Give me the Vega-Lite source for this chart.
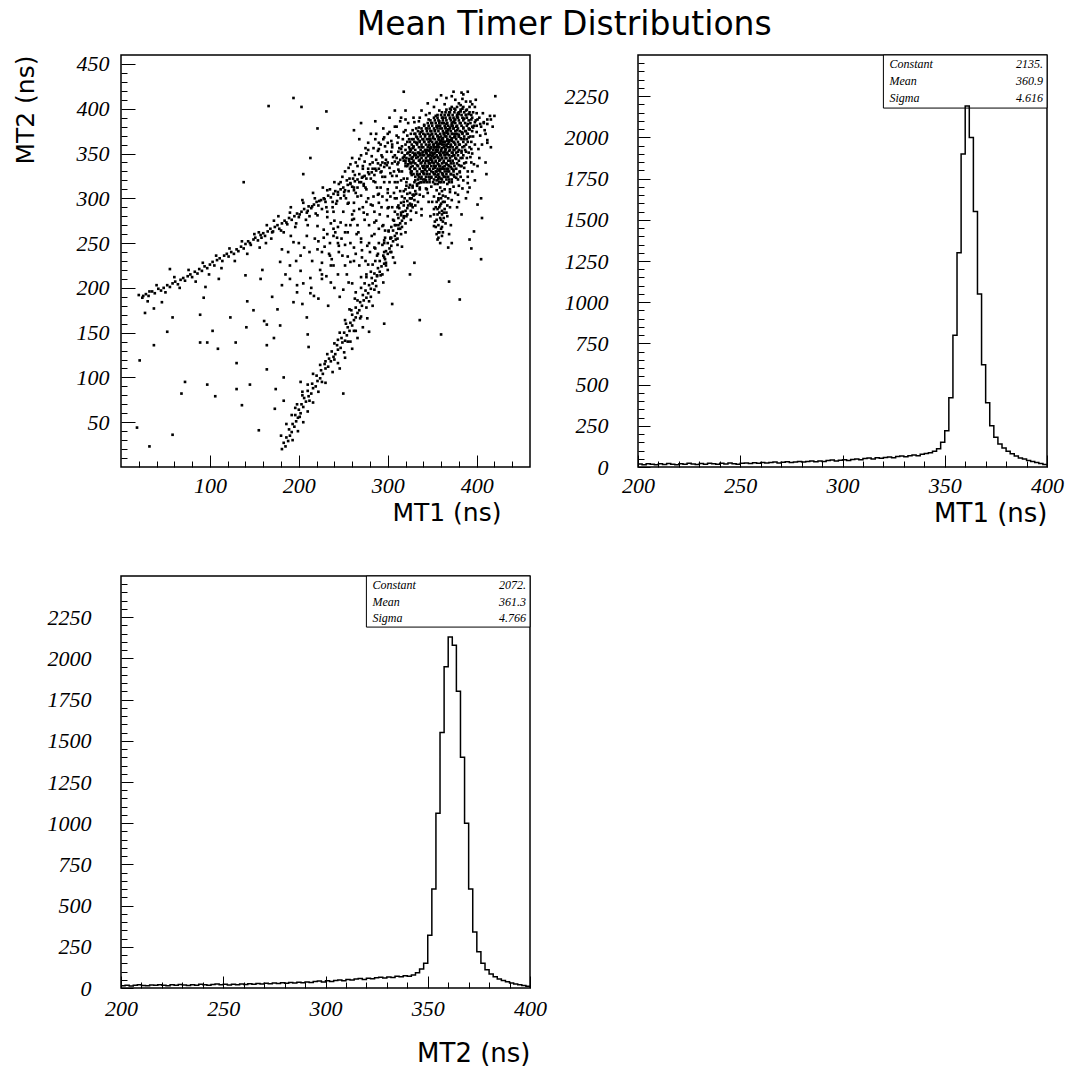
{
  "$schema": "https://vega.github.io/schema/vega-lite/v6.json",
  "background": "white",
  "padding": {"left": 12, "top": 9, "right": 10, "bottom": 8},
  "title": {"text": "Mean Timer Distributions", "font": "DejaVu Sans", "fontSize": 33, "fontWeight": "normal", "color": "black", "anchor": "middle", "dx": 26, "offset": 10},
  "columns": 2,
  "bounds": "flush",
  "spacing": {"row": 109, "column": 108},
  "datasets": {
    "scatter": [
      {"x":194,"y":412},{"x":166,"y":403},{"x":203,"y":402},{"x":231,"y":397},{"x":221,"y":378},{"x":318,"y":419},{"x":138,"y":318},{"x":213,"y":345},{"x":205,"y":327},{"x":25,"y":191},{"x":32,"y":196},{"x":55,"y":221},{"x":27,"y":172},{"x":37,"y":177},{"x":46,"y":184},{"x":52,"y":151},{"x":37,"y":136},{"x":58,"y":167},{"x":21,"y":119},{"x":72,"y":95},{"x":68,"y":82},{"x":58,"y":36},{"x":32,"y":23},{"x":18,"y":44},{"x":97,"y":92},{"x":106,"y":79},{"x":130,"y":87},{"x":145,"y":92},{"x":136,"y":69},{"x":155,"y":41},{"x":130,"y":116},{"x":89,"y":139},{"x":109,"y":132},{"x":129,"y":139},{"x":164,"y":136},{"x":174,"y":87},{"x":173,"y":65},{"x":183,"y":74},{"x":183,"y":100},{"x":164,"y":109},{"x":202,"y":95},{"x":211,"y":134},{"x":210,"y":148},{"x":209,"y":167},{"x":194,"y":184},{"x":204,"y":182},{"x":179,"y":158},{"x":172,"y":144},{"x":164,"y":159},{"x":176,"y":176},{"x":161,"y":163},{"x":141,"y":156},{"x":123,"y":167},{"x":103,"y":152},{"x":97,"y":139},{"x":89,"y":170},{"x":93,"y":189},{"x":95,"y":201},{"x":110,"y":210},{"x":142,"y":185},{"x":140,"y":214},{"x":157,"y":210},{"x":159,"y":220},{"x":185,"y":215},{"x":170,"y":190},{"x":149,"y":175},{"x":181,"y":203},{"x":198,"y":203},{"x":213,"y":194},{"x":217,"y":191},{"x":202,"y":219},{"x":213,"y":211},{"x":226,"y":210},{"x":231,"y":213},{"x":239,"y":225},{"x":235,"y":236},{"x":256,"y":206},{"x":258,"y":229},{"x":264,"y":238},{"x":245,"y":247},{"x":239,"y":258},{"x":194,"y":251},{"x":181,"y":243},{"x":179,"y":229},{"x":202,"y":236},{"x":221,"y":243},{"x":209,"y":258},{"x":191,"y":258},{"x":221,"y":269},{"x":239,"y":266},{"x":247,"y":273},{"x":255,"y":262},{"x":270,"y":251},{"x":277,"y":247},{"x":285,"y":245},{"x":296,"y":253},{"x":303,"y":256},{"x":294,"y":269},{"x":285,"y":273},{"x":273,"y":284},{"x":262,"y":277},{"x":270,"y":303},{"x":255,"y":294},{"x":239,"y":285},{"x":232,"y":279},{"x":221,"y":281},{"x":251,"y":307},{"x":262,"y":312},{"x":247,"y":318},{"x":273,"y":316},{"x":281,"y":293},{"x":289,"y":304},{"x":300,"y":289},{"x":308,"y":300},{"x":315,"y":281},{"x":327,"y":293},{"x":338,"y":281},{"x":352,"y":269},{"x":380,"y":296},{"x":390,"y":307},{"x":401,"y":293},{"x":406,"y":278},{"x":397,"y":263},{"x":394,"y":244},{"x":405,"y":232},{"x":392,"y":254},{"x":369,"y":207},{"x":381,"y":187},{"x":360,"y":148},{"x":336,"y":164},{"x":330,"y":228},{"x":325,"y":215},{"x":296,"y":160},{"x":279,"y":151},{"x":250,"y":82},{"x":305,"y":182},{"x":401,"y":336},{"x":411,"y":327},{"x":412,"y":362},{"x":416,"y":357},{"x":420,"y":392},{"x":421,"y":414},
      {"x":20,"y":192},{"x":24,"y":189},{"x":28,"y":193},{"x":31,"y":191},{"x":35,"y":196},{"x":38,"y":194},{"x":42,"y":199},{"x":45,"y":197},{"x":48,"y":200},{"x":52,"y":203},{"x":55,"y":201},{"x":58,"y":205},{"x":61,"y":207},{"x":64,"y":204},{"x":67,"y":209},{"x":70,"y":211},{"x":72,"y":208},{"x":75,"y":213},{"x":78,"y":215},{"x":80,"y":212},{"x":83,"y":218},{"x":86,"y":216},{"x":88,"y":221},{"x":91,"y":219},{"x":94,"y":224},{"x":97,"y":222},{"x":100,"y":226},{"x":103,"y":229},{"x":105,"y":225},{"x":108,"y":231},{"x":111,"y":233},{"x":114,"y":230},{"x":116,"y":236},{"x":119,"y":238},{"x":121,"y":235},{"x":124,"y":240},{"x":127,"y":238},{"x":130,"y":243},{"x":132,"y":241},{"x":135,"y":246},{"x":138,"y":244},{"x":140,"y":249},{"x":143,"y":252},{"x":146,"y":248},{"x":149,"y":254},{"x":151,"y":256},{"x":154,"y":253},{"x":157,"y":259},{"x":160,"y":261},{"x":162,"y":258},{"x":165,"y":263},{"x":168,"y":266},{"x":170,"y":262},{"x":173,"y":268},{"x":176,"y":270},{"x":178,"y":266},{"x":181,"y":272},{"x":184,"y":275},{"x":187,"y":271},{"x":189,"y":278},{"x":192,"y":276},{"x":195,"y":280},{"x":198,"y":283},{"x":200,"y":279},{"x":203,"y":285},{"x":206,"y":288},{"x":209,"y":284},{"x":211,"y":291},{"x":214,"y":289},{"x":217,"y":293},{"x":220,"y":296},{"x":222,"y":292},{"x":225,"y":298},{"x":228,"y":300},{"x":230,"y":296},{"x":233,"y":303},{"x":236,"y":301},{"x":239,"y":305},{"x":241,"y":308},{"x":244,"y":304},{"x":247,"y":310},{"x":250,"y":312},{"x":252,"y":309},{"x":255,"y":315},{"x":258,"y":317},{"x":260,"y":313},{"x":263,"y":319},{"x":266,"y":321},{"x":268,"y":318},{"x":271,"y":323},{"x":274,"y":325},{"x":276,"y":322},{"x":279,"y":327},{"x":282,"y":329},{"x":285,"y":326},{"x":287,"y":331},{"x":290,"y":333},{"x":293,"y":330},{"x":296,"y":335},{"x":299,"y":337},{"x":302,"y":334},{"x":305,"y":339},{"x":308,"y":341},{"x":311,"y":338},{"x":314,"y":343},{"x":317,"y":345},{"x":320,"y":342},
      {"x":155,"y":262},{"x":163,"y":250},{"x":172,"y":275},{"x":180,"y":264},{"x":190,"y":284},{"x":197,"y":272},{"x":205,"y":295},{"x":212,"y":280},{"x":218,"y":300},{"x":226,"y":288},{"x":232,"y":309},{"x":238,"y":296},{"x":245,"y":316},{"x":251,"y":303},{"x":257,"y":322},{"x":262,"y":309},{"x":268,"y":327},{"x":273,"y":314},{"x":278,"y":333},{"x":284,"y":319},{"x":289,"y":339},{"x":294,"y":324},{"x":298,"y":343},{"x":303,"y":328},{"x":308,"y":348},{"x":312,"y":332},{"x":316,"y":351},{"x":320,"y":336},{"x":325,"y":355},{"x":328,"y":340},{"x":243,"y":297},{"x":256,"y":308},{"x":270,"y":318},{"x":283,"y":333},{"x":297,"y":339},{"x":310,"y":345},{"x":254,"y":320},{"x":266,"y":312},{"x":281,"y":322},{"x":292,"y":337},
      {"x":30,"y":185},{"x":40,"y":203},{"x":50,"y":195},{"x":60,"y":212},{"x":66,"y":200},{"x":76,"y":220},{"x":84,"y":207},{"x":92,"y":228},{"x":99,"y":215},{"x":107,"y":236},{"x":113,"y":222},{"x":122,"y":244},{"x":128,"y":230},{"x":136,"y":252},{"x":142,"y":238},{"x":150,"y":260},{"x":156,"y":245},{"x":164,"y":270},{"x":169,"y":255},{"x":177,"y":280},{"x":183,"y":262},{"x":191,"y":290},{"x":196,"y":268},{"x":204,"y":298},{"x":208,"y":276},{"x":216,"y":306},{"x":219,"y":283},{"x":227,"y":312},{"x":231,"y":290},{"x":240,"y":318},{"x":242,"y":294},{"x":249,"y":324},{"x":253,"y":300},{"x":261,"y":330},{"x":264,"y":306},{"x":272,"y":336},{"x":275,"y":312},{"x":283,"y":340},{"x":286,"y":318},{"x":294,"y":346},{"x":297,"y":324},{"x":304,"y":352},{"x":307,"y":330},{"x":313,"y":356},{"x":145,"y":250},{"x":158,"y":256},{"x":171,"y":263},{"x":186,"y":273},{"x":201,"y":282},{"x":215,"y":291},{"x":229,"y":299},{"x":244,"y":307},{"x":258,"y":316},{"x":272,"y":324},{"x":286,"y":333},{"x":300,"y":340},{"x":235,"y":310},{"x":223,"y":297},{"x":210,"y":286},{"x":261,"y":322},{"x":278,"y":329},{"x":292,"y":329},
      {"x":181,"y":20},{"x":185,"y":23},{"x":183,"y":27},{"x":188,"y":29},{"x":186,"y":33},{"x":190,"y":35},{"x":192,"y":39},{"x":189,"y":42},{"x":195,"y":45},{"x":193,"y":48},{"x":197,"y":51},{"x":199,"y":55},{"x":196,"y":58},{"x":202,"y":60},{"x":200,"y":64},{"x":205,"y":67},{"x":203,"y":70},{"x":208,"y":73},{"x":206,"y":77},{"x":211,"y":79},{"x":214,"y":82},{"x":210,"y":85},{"x":216,"y":88},{"x":219,"y":90},{"x":215,"y":93},{"x":221,"y":96},{"x":224,"y":99},{"x":220,"y":102},{"x":227,"y":104},{"x":225,"y":108},{"x":230,"y":110},{"x":233,"y":112},{"x":229,"y":115},{"x":236,"y":118},{"x":234,"y":121},{"x":239,"y":123},{"x":241,"y":126},{"x":237,"y":129},{"x":244,"y":131},{"x":247,"y":133},{"x":243,"y":136},{"x":249,"y":139},{"x":252,"y":141},{"x":248,"y":144},{"x":254,"y":147},{"x":251,"y":150},{"x":257,"y":152},{"x":255,"y":156},{"x":260,"y":158},{"x":258,"y":161},{"x":262,"y":164},{"x":264,"y":167},{"x":260,"y":170},{"x":266,"y":172},{"x":268,"y":175},{"x":264,"y":178},{"x":271,"y":180},{"x":269,"y":184},{"x":273,"y":186},{"x":276,"y":189},{"x":272,"y":192},{"x":278,"y":194},{"x":275,"y":197},{"x":281,"y":199},{"x":279,"y":203},{"x":283,"y":205},{"x":286,"y":208},{"x":282,"y":211},{"x":288,"y":213},{"x":285,"y":216},{"x":291,"y":218},{"x":289,"y":222},{"x":293,"y":224},{"x":296,"y":227},{"x":291,"y":230},{"x":297,"y":232},{"x":295,"y":236},{"x":300,"y":238},{"x":298,"y":241},{"x":302,"y":244},{"x":304,"y":247},{"x":300,"y":250},{"x":306,"y":252},{"x":303,"y":255},{"x":308,"y":258},{"x":310,"y":261},{"x":306,"y":264},{"x":312,"y":266},{"x":309,"y":270},{"x":314,"y":272},{"x":316,"y":275},{"x":312,"y":278},{"x":318,"y":280},{"x":315,"y":284},{"x":320,"y":286},{"x":322,"y":289},{"x":318,"y":292},{"x":325,"y":294},{"x":322,"y":297},{"x":327,"y":300},{"x":329,"y":303},{"x":325,"y":306},{"x":331,"y":308},{"x":328,"y":312},{"x":333,"y":314},{"x":335,"y":317},{"x":331,"y":320},{"x":337,"y":322},{"x":334,"y":326},
      {"x":255,"y":140},{"x":240,"y":120},{"x":262,"y":152},{"x":270,"y":168},{"x":279,"y":185},{"x":285,"y":198},{"x":294,"y":215},{"x":298,"y":225},{"x":304,"y":240},{"x":311,"y":255},{"x":316,"y":268},{"x":321,"y":280},{"x":326,"y":292},{"x":332,"y":305},{"x":338,"y":318},{"x":244,"y":142},{"x":253,"y":160},{"x":259,"y":175},{"x":266,"y":186},{"x":274,"y":205},{"x":281,"y":218},{"x":288,"y":236},{"x":294,"y":248},{"x":301,"y":263},{"x":307,"y":275},{"x":313,"y":289},{"x":319,"y":300},{"x":324,"y":312},{"x":230,"y":118},{"x":226,"y":95},{"x":212,"y":74},{"x":201,"y":56},{"x":204,"y":84},{"x":196,"y":66},
      {"x":193,"y":30},{"x":180,"y":35},{"x":199,"y":40},{"x":186,"y":48},{"x":205,"y":50},{"x":192,"y":58},{"x":210,"y":62},{"x":198,"y":70},{"x":216,"y":72},{"x":204,"y":80},{"x":222,"y":84},{"x":210,"y":92},{"x":230,"y":94},{"x":216,"y":104},{"x":238,"y":106},{"x":224,"y":114},{"x":244,"y":116},{"x":232,"y":126},{"x":251,"y":128},{"x":240,"y":138},{"x":258,"y":140},{"x":246,"y":150},{"x":264,"y":152},{"x":252,"y":164},{"x":269,"y":166},{"x":257,"y":176},{"x":276,"y":178},{"x":263,"y":188},{"x":281,"y":190},{"x":270,"y":200},{"x":287,"y":202},{"x":276,"y":212},{"x":292,"y":214},{"x":283,"y":226},{"x":298,"y":228},{"x":289,"y":238},{"x":303,"y":240},{"x":296,"y":250},{"x":309,"y":254},{"x":301,"y":264},{"x":314,"y":266},{"x":306,"y":276},{"x":318,"y":278},{"x":311,"y":290},{"x":323,"y":292},{"x":316,"y":302},{"x":328,"y":304},{"x":321,"y":314},{"x":333,"y":316},{"x":327,"y":326},{"x":340,"y":330},{"x":343,"y":320},{"x":336,"y":310},{"x":330,"y":298},{"x":326,"y":286},{"x":320,"y":272},{"x":315,"y":260},{"x":311,"y":248},{"x":306,"y":234},{"x":300,"y":220},{"x":295,"y":206},{"x":290,"y":195},{"x":283,"y":180},{"x":277,"y":166},{"x":272,"y":156},{"x":266,"y":144},{"x":260,"y":132},{"x":252,"y":122},{"x":246,"y":110},
      {"x":265,"y":260},{"x":272,"y":290},{"x":258,"y":270},{"x":248,"y":255},{"x":262,"y":295},{"x":278,"y":300},{"x":285,"y":285},{"x":290,"y":305},{"x":300,"y":310},{"x":295,"y":270},{"x":305,"y":290},{"x":310,"y":300},{"x":315,"y":320},{"x":280,"y":240},{"x":268,"y":225},{"x":255,"y":235},{"x":245,"y":240},{"x":235,"y":250},{"x":228,"y":265},{"x":240,"y":275},{"x":250,"y":285},{"x":232,"y":285},{"x":226,"y":240},{"x":218,"y":255},{"x":210,"y":270},{"x":206,"y":245},{"x":197,"y":230},{"x":188,"y":240},{"x":215,"y":230},{"x":252,"y":225},{"x":244,"y":215},{"x":236,"y":225},{"x":226,"y":215},{"x":260,"y":205},{"x":250,"y":198},{"x":240,"y":200},{"x":233,"y":180},{"x":222,"y":188},{"x":214,"y":200},{"x":205,"y":205},{"x":198,"y":195},{"x":190,"y":210},{"x":275,"y":230},{"x":285,"y":260},{"x":290,"y":250},{"x":300,"y":280},{"x":308,"y":270},{"x":317,"y":285},{"x":322,"y":305},{"x":311,"y":318},{"x":305,"y":325},{"x":296,"y":318},{"x":288,"y":312},{"x":276,"y":310},{"x":266,"y":302},{"x":256,"y":295},{"x":247,"y":300},{"x":238,"y":290},{"x":262,"y":245},{"x":270,"y":255},{"x":279,"y":270},{"x":287,"y":275},{"x":293,"y":290},{"x":299,"y":298},{"x":310,"y":312},{"x":318,"y":322},{"x":326,"y":330},
      {"x":232,"y":260},{"x":244,"y":268},{"x":252,"y":248},{"x":260,"y":282},{"x":271,"y":242},{"x":282,"y":258},{"x":291,"y":282},{"x":297,"y":264},{"x":303,"y":302},{"x":312,"y":292},{"x":320,"y":310},{"x":226,"y":228},{"x":236,"y":206},{"x":246,"y":190},{"x":254,"y":215},{"x":264,"y":195},{"x":276,"y":215},{"x":286,"y":230},{"x":296,"y":240},{"x":308,"y":285},{"x":315,"y":295},{"x":190,"y":225},{"x":200,"y":250},{"x":212,"y":240},{"x":222,"y":252},{"x":234,"y":238},{"x":243,"y":256},{"x":266,"y":270},{"x":277,"y":282},{"x":290,"y":295},{"x":302,"y":318},{"x":313,"y":330},{"x":325,"y":340},
      {"x":252,"y":330},{"x":258,"y":338},{"x":263,"y":326},{"x":268,"y":344},{"x":272,"y":333},{"x":276,"y":350},{"x":280,"y":338},{"x":284,"y":356},{"x":287,"y":343},{"x":290,"y":362},{"x":293,"y":348},{"x":296,"y":368},{"x":299,"y":352},{"x":302,"y":374},{"x":305,"y":357},{"x":308,"y":380},{"x":311,"y":362},{"x":314,"y":386},{"x":317,"y":366},{"x":320,"y":376},{"x":323,"y":384},{"x":326,"y":372},{"x":329,"y":390},{"x":332,"y":378},{"x":335,"y":386},{"x":260,"y":345},{"x":266,"y":336},{"x":274,"y":341},{"x":282,"y":347},{"x":289,"y":353},{"x":297,"y":358},{"x":304,"y":364},{"x":310,"y":370},{"x":316,"y":358},{"x":322,"y":350},{"x":328,"y":356},{"x":333,"y":362},{"x":318,"y":374},{"x":306,"y":346},{"x":300,"y":362},{"x":294,"y":340},{"x":286,"y":366},{"x":278,"y":354},{"x":270,"y":348},{"x":264,"y":340},{"x":256,"y":334},{"x":312,"y":352},{"x":324,"y":366},{"x":330,"y":372},{"x":320,"y":388},
      {"x":224,"y":220},{"x":229,"y":246},{"x":237,"y":232},{"x":241,"y":262},{"x":249,"y":236},{"x":253,"y":270},{"x":258,"y":250},{"x":262,"y":286},{"x":267,"y":262},{"x":271,"y":234},{"x":274,"y":276},{"x":279,"y":250},{"x":283,"y":292},{"x":286,"y":244},{"x":290,"y":266},{"x":294,"y":302},{"x":297,"y":256},{"x":301,"y":290},{"x":304,"y":268},{"x":307,"y":306},{"x":311,"y":282},{"x":314,"y":308},{"x":318,"y":296},{"x":321,"y":318},{"x":325,"y":300},{"x":328,"y":314},{"x":331,"y":292},{"x":308,"y":318},{"x":300,"y":306},{"x":292,"y":312},{"x":284,"y":302},{"x":276,"y":296},{"x":268,"y":288},{"x":260,"y":276},{"x":252,"y":262},{"x":244,"y":250},{"x":236,"y":272},{"x":228,"y":256},{"x":262,"y":230},{"x":270,"y":212},{"x":278,"y":226},{"x":288,"y":214},{"x":296,"y":234},{"x":304,"y":256},{"x":312,"y":270},{"x":320,"y":262},{"x":326,"y":276},{"x":332,"y":284},{"x":316,"y":246},{"x":308,"y":228},
      {"x":322,"y":282},{"x":328,"y":290},{"x":334,"y":296},{"x":340,"y":302},{"x":346,"y":296},{"x":338,"y":288},{"x":344,"y":310},{"x":350,"y":296},{"x":352,"y":288},{"x":348,"y":280},{"x":330,"y":318},{"x":336,"y":304},{"x":326,"y":300},{"x":372,"y":298},{"x":376,"y":306},{"x":380,"y":314},{"x":385,"y":320},{"x":388,"y":300},{"x":392,"y":312},{"x":378,"y":290},{"x":383,"y":282},{"x":374,"y":326},{"x":382,"y":336},{"x":390,"y":330},{"x":394,"y":340},
      {"x":262,"y":376},{"x":270,"y":384},{"x":278,"y":362},{"x":286,"y":386},{"x":295,"y":378},{"x":302,"y":390},{"x":268,"y":366},{"x":281,"y":372},{"x":292,"y":360},{"x":275,"y":356},{"x":300,"y":372},{"x":305,"y":360},{"x":310,"y":380},{"x":295,"y":366},{"x":290,"y":355},{"x":315,"y":390},{"x":320,"y":398},{"x":308,"y":398},{"x":312,"y":368},{"x":287,"y":372},
      {"x":352,"y":402},{"x":358,"y":398},{"x":364,"y":405},{"x":370,"y":400},{"x":376,"y":410},{"x":382,"y":404},{"x":388,"y":398},{"x":372,"y":414},{"x":385,"y":416},{"x":393,"y":408},{"x":366,"y":412},{"x":345,"y":406},{"x":338,"y":398},{"x":379,"y":395},{"x":391,"y":394},{"x":398,"y":402},{"x":360,"y":415},{"x":355,"y":410},{"x":384,"y":411},{"x":396,"y":396},{"x":401,"y":388},{"x":369,"y":396},{"x":347,"y":395},
      {"x":330,"y":385},{"x":336,"y":390},{"x":341,"y":382},{"x":346,"y":388},{"x":350,"y":384},{"x":354,"y":392},{"x":358,"y":386},{"x":362,"y":390},{"x":366,"y":383},{"x":370,"y":389},{"x":374,"y":385},{"x":378,"y":391},{"x":382,"y":384},{"x":386,"y":389},{"x":390,"y":383},{"x":394,"y":388},{"x":398,"y":385},{"x":403,"y":390},{"x":408,"y":384},{"x":412,"y":388},{"x":343,"y":393},{"x":357,"y":381},{"x":368,"y":393},{"x":377,"y":380},{"x":388,"y":393},{"x":395,"y":380},{"x":405,"y":380},{"x":415,"y":392},{"x":361,"y":384},{"x":372,"y":381},
      {"x":322,"y":370},{"x":328,"y":376},{"x":333,"y":368},{"x":337,"y":374},{"x":340,"y":366},{"x":344,"y":378},{"x":348,"y":371},{"x":351,"y":367},{"x":353,"y":376},{"x":356,"y":370},{"x":359,"y":378},{"x":361,"y":366},{"x":363,"y":373},{"x":366,"y":369},{"x":368,"y":377},{"x":370,"y":365},{"x":372,"y":372},{"x":375,"y":368},{"x":378,"y":376},{"x":380,"y":369},{"x":383,"y":374},{"x":386,"y":366},{"x":389,"y":372},{"x":392,"y":377},{"x":396,"y":369},{"x":400,"y":374},{"x":404,"y":370},{"x":409,"y":376},{"x":346,"y":366},{"x":355,"y":380},{"x":365,"y":379},{"x":374,"y":378},{"x":385,"y":379},{"x":349,"y":375},{"x":358,"y":368},{"x":367,"y":374},{"x":376,"y":372},{"x":382,"y":367},{"x":391,"y":368},{"x":342,"y":371},{"x":335,"y":379},{"x":327,"y":366},
      {"x":315,"y":355},{"x":320,"y":360},{"x":325,"y":352},{"x":329,"y":358},{"x":332,"y":362},{"x":335,"y":351},{"x":338,"y":357},{"x":341,"y":363},{"x":343,"y":353},{"x":346,"y":359},{"x":348,"y":364},{"x":350,"y":351},{"x":352,"y":357},{"x":354,"y":362},{"x":356,"y":354},{"x":357,"y":360},{"x":359,"y":350},{"x":361,"y":356},{"x":362,"y":363},{"x":364,"y":352},{"x":366,"y":358},{"x":367,"y":364},{"x":369,"y":353},{"x":371,"y":359},{"x":373,"y":351},{"x":375,"y":362},{"x":377,"y":356},{"x":380,"y":360},{"x":383,"y":353},{"x":386,"y":358},{"x":390,"y":363},{"x":394,"y":355},{"x":398,"y":360},{"x":344,"y":350},{"x":351,"y":360},{"x":358,"y":365},{"x":365,"y":355},{"x":372,"y":364},{"x":379,"y":352},{"x":336,"y":364},{"x":331,"y":350},{"x":348,"y":356},{"x":355,"y":352},{"x":363,"y":360},{"x":370,"y":357},{"x":388,"y":352},{"x":322,"y":363},{"x":346,"y":353},{"x":360,"y":353},{"x":368,"y":361},{"x":375,"y":354},
      {"x":312,"y":340},{"x":318,"y":346},{"x":323,"y":338},{"x":327,"y":344},{"x":330,"y":349},{"x":333,"y":337},{"x":336,"y":343},{"x":339,"y":348},{"x":341,"y":336},{"x":343,"y":342},{"x":345,"y":347},{"x":347,"y":339},{"x":349,"y":344},{"x":351,"y":349},{"x":352,"y":336},{"x":354,"y":341},{"x":356,"y":346},{"x":357,"y":338},{"x":359,"y":343},{"x":360,"y":348},{"x":362,"y":335},{"x":363,"y":340},{"x":365,"y":345},{"x":367,"y":349},{"x":368,"y":337},{"x":370,"y":342},{"x":372,"y":347},{"x":374,"y":339},{"x":377,"y":344},{"x":380,"y":337},{"x":384,"y":345},{"x":388,"y":340},{"x":393,"y":346},{"x":397,"y":338},{"x":338,"y":340},{"x":350,"y":340},{"x":361,"y":345},{"x":366,"y":338},{"x":353,"y":346},{"x":344,"y":335},{"x":358,"y":336},{"x":371,"y":335},{"x":326,"y":335},{"x":334,"y":346},{"x":348,"y":348},{"x":364,"y":349},{"x":375,"y":348},
      {"x":310,"y":325},{"x":316,"y":330},{"x":322,"y":322},{"x":326,"y":328},{"x":331,"y":333},{"x":335,"y":324},{"x":339,"y":330},{"x":342,"y":321},{"x":344,"y":327},{"x":347,"y":332},{"x":349,"y":323},{"x":351,"y":329},{"x":353,"y":334},{"x":355,"y":320},{"x":356,"y":326},{"x":358,"y":331},{"x":360,"y":322},{"x":361,"y":328},{"x":363,"y":333},{"x":365,"y":324},{"x":367,"y":330},{"x":369,"y":321},{"x":371,"y":327},{"x":374,"y":332},{"x":377,"y":323},{"x":381,"y":329},{"x":386,"y":334},{"x":390,"y":324},{"x":395,"y":330},{"x":352,"y":327},{"x":357,"y":323},{"x":359,"y":333},{"x":346,"y":324},{"x":362,"y":326},{"x":354,"y":330},{"x":340,"y":334},{"x":333,"y":327},{"x":368,"y":333},
      {"x":318,"y":308},{"x":325,"y":315},{"x":330,"y":304},{"x":336,"y":312},{"x":341,"y":318},{"x":345,"y":306},{"x":349,"y":313},{"x":352,"y":302},{"x":355,"y":309},{"x":356,"y":316},{"x":358,"y":305},{"x":359,"y":312},{"x":360,"y":318},{"x":362,"y":303},{"x":364,"y":310},{"x":367,"y":316},{"x":370,"y":307},{"x":374,"y":313},{"x":379,"y":304},{"x":384,"y":311},{"x":390,"y":317},{"x":347,"y":318},{"x":353,"y":316},{"x":357,"y":300},{"x":361,"y":308},{"x":365,"y":302},{"x":372,"y":318},{"x":343,"y":311},
      {"x":357,"y":298},{"x":360,"y":294},{"x":358,"y":290},{"x":361,"y":286},{"x":356,"y":282},{"x":359,"y":278},{"x":362,"y":274},{"x":357,"y":270},{"x":360,"y":266},{"x":358,"y":262},{"x":361,"y":258},{"x":356,"y":254},{"x":359,"y":292},{"x":363,"y":284},{"x":355,"y":276},{"x":361,"y":268},{"x":358,"y":284},{"x":360,"y":276},{"x":357,"y":262},{"x":362,"y":296},{"x":359,"y":250},{"x":364,"y":288},{"x":354,"y":290},{"x":365,"y":272},
      {"x":355,"y":260},{"x":362,"y":262},{"x":354,"y":268},{"x":363,"y":278},{"x":356,"y":288},{"x":364,"y":296},{"x":357,"y":256},{"x":361,"y":282},{"x":355,"y":296},{"x":360,"y":300},{"x":366,"y":284},{"x":353,"y":274},{"x":367,"y":292},{"x":352,"y":282},{"x":368,"y":300},{"x":370,"y":290},{"x":367,"y":280},{"x":371,"y":270},{"x":369,"y":260},{"x":372,"y":250},{"x":368,"y":245},{"x":370,"y":310},
      {"x":340,"y":328},{"x":342,"y":332},{"x":344,"y":336},{"x":346,"y":340},{"x":348,"y":343},{"x":350,"y":347},{"x":352,"y":350},{"x":354,"y":354},{"x":356,"y":357},{"x":358,"y":361},{"x":360,"y":364},{"x":362,"y":367},{"x":364,"y":370},{"x":366,"y":373},{"x":368,"y":376},{"x":370,"y":379},{"x":372,"y":382},{"x":374,"y":385},{"x":376,"y":388},{"x":378,"y":391},{"x":380,"y":394},{"x":382,"y":397},{"x":384,"y":400},
      {"x":324,"y":344},{"x":328,"y":346},{"x":332,"y":348},{"x":336,"y":350},{"x":340,"y":352},{"x":344,"y":354},{"x":348,"y":356},{"x":352,"y":357},{"x":356,"y":359},{"x":360,"y":361},{"x":364,"y":363},{"x":368,"y":365},{"x":372,"y":367},{"x":376,"y":369},{"x":380,"y":371},{"x":384,"y":373},{"x":388,"y":375},{"x":392,"y":377},{"x":396,"y":379},{"x":400,"y":381},{"x":404,"y":383},{"x":408,"y":385},{"x":412,"y":383},{"x":416,"y":388},
      {"x":405,"y":300},{"x":398,"y":320},{"x":410,"y":340},{"x":402,"y":355},{"x":412,"y":365},{"x":407,"y":395},{"x":399,"y":410},{"x":390,"y":419},{"x":383,"y":418},{"x":374,"y":419},{"x":395,"y":350},{"x":403,"y":345},{"x":410,"y":372},{"x":418,"y":380},{"x":406,"y":360},{"x":400,"y":395},{"x":395,"y":405},{"x":388,"y":408},{"x":380,"y":406},{"x":375,"y":400},
      {"x":337,"y":318},{"x":344,"y":318},{"x":351,"y":318},{"x":358,"y":318},{"x":363,"y":318},{"x":369,"y":318},
      {"x":334,"y":321},{"x":340,"y":321},{"x":347,"y":321},{"x":352,"y":321},{"x":357,"y":321},{"x":361,"y":321},{"x":366,"y":321},{"x":372,"y":321},{"x":379,"y":321},
      {"x":331,"y":324},{"x":338,"y":324},{"x":343,"y":324},{"x":349,"y":324},{"x":354,"y":324},{"x":358,"y":324},{"x":363,"y":324},{"x":368,"y":324},{"x":375,"y":324},{"x":382,"y":324},
      {"x":329,"y":327},{"x":336,"y":327},{"x":341,"y":327},{"x":347,"y":327},{"x":353,"y":327},{"x":357,"y":327},{"x":362,"y":327},{"x":366,"y":327},{"x":371,"y":327},{"x":378,"y":327},
      {"x":327,"y":330},{"x":333,"y":330},{"x":338,"y":330},{"x":344,"y":330},{"x":349,"y":330},{"x":355,"y":330},{"x":359,"y":330},{"x":364,"y":330},{"x":369,"y":330},{"x":374,"y":330},{"x":381,"y":330},
      {"x":325,"y":333},{"x":330,"y":333},{"x":336,"y":333},{"x":342,"y":333},{"x":347,"y":333},{"x":351,"y":333},{"x":356,"y":333},{"x":361,"y":333},{"x":366,"y":333},{"x":372,"y":333},{"x":377,"y":333},
      {"x":322,"y":336},{"x":328,"y":336},{"x":334,"y":336},{"x":339,"y":336},{"x":345,"y":336},{"x":349,"y":336},{"x":354,"y":336},{"x":359,"y":336},{"x":364,"y":336},{"x":369,"y":336},{"x":375,"y":336},{"x":383,"y":336},
      {"x":320,"y":339},{"x":326,"y":339},{"x":331,"y":339},{"x":337,"y":339},{"x":342,"y":339},{"x":347,"y":339},{"x":352,"y":339},{"x":356,"y":339},{"x":361,"y":339},{"x":366,"y":339},{"x":371,"y":339},{"x":378,"y":339},{"x":386,"y":339},
      {"x":318,"y":342},{"x":324,"y":342},{"x":329,"y":342},{"x":335,"y":342},{"x":340,"y":342},{"x":345,"y":342},{"x":350,"y":342},{"x":354,"y":342},{"x":358,"y":342},{"x":363,"y":342},{"x":368,"y":342},{"x":373,"y":342},{"x":380,"y":342},
      {"x":321,"y":345},{"x":327,"y":345},{"x":332,"y":345},{"x":338,"y":345},{"x":343,"y":345},{"x":348,"y":345},{"x":352,"y":345},{"x":357,"y":345},{"x":361,"y":345},{"x":366,"y":345},{"x":370,"y":345},{"x":376,"y":345},{"x":382,"y":345},{"x":389,"y":345},
      {"x":319,"y":348},{"x":325,"y":348},{"x":330,"y":348},{"x":336,"y":348},{"x":341,"y":348},{"x":346,"y":348},{"x":351,"y":348},{"x":355,"y":348},{"x":359,"y":348},{"x":364,"y":348},{"x":369,"y":348},{"x":374,"y":348},{"x":379,"y":348},{"x":385,"y":348},
      {"x":323,"y":351},{"x":328,"y":351},{"x":334,"y":351},{"x":339,"y":351},{"x":343,"y":351},{"x":348,"y":351},{"x":353,"y":351},{"x":358,"y":351},{"x":362,"y":351},{"x":367,"y":351},{"x":372,"y":351},{"x":377,"y":351},{"x":383,"y":351},{"x":391,"y":351},
      {"x":320,"y":354},{"x":326,"y":354},{"x":331,"y":354},{"x":337,"y":354},{"x":342,"y":354},{"x":347,"y":354},{"x":351,"y":354},{"x":356,"y":354},{"x":360,"y":354},{"x":365,"y":354},{"x":370,"y":354},{"x":374,"y":354},{"x":380,"y":354},{"x":387,"y":354},
      {"x":324,"y":357},{"x":329,"y":357},{"x":335,"y":357},{"x":340,"y":357},{"x":345,"y":357},{"x":349,"y":357},{"x":354,"y":357},{"x":358,"y":357},{"x":363,"y":357},{"x":368,"y":357},{"x":373,"y":357},{"x":378,"y":357},{"x":384,"y":357},{"x":392,"y":357},
      {"x":327,"y":360},{"x":333,"y":360},{"x":338,"y":360},{"x":343,"y":360},{"x":347,"y":360},{"x":352,"y":360},{"x":356,"y":360},{"x":361,"y":360},{"x":366,"y":360},{"x":371,"y":360},{"x":376,"y":360},{"x":381,"y":360},{"x":388,"y":360},
      {"x":325,"y":363},{"x":330,"y":363},{"x":336,"y":363},{"x":341,"y":363},{"x":346,"y":363},{"x":350,"y":363},{"x":355,"y":363},{"x":359,"y":363},{"x":364,"y":363},{"x":369,"y":363},{"x":374,"y":363},{"x":379,"y":363},{"x":385,"y":363},{"x":394,"y":363},
      {"x":329,"y":366},{"x":334,"y":366},{"x":339,"y":366},{"x":344,"y":366},{"x":348,"y":366},{"x":353,"y":366},{"x":357,"y":366},{"x":362,"y":366},{"x":367,"y":366},{"x":372,"y":366},{"x":377,"y":366},{"x":383,"y":366},{"x":389,"y":366},
      {"x":332,"y":369},{"x":337,"y":369},{"x":342,"y":369},{"x":347,"y":369},{"x":351,"y":369},{"x":356,"y":369},{"x":360,"y":369},{"x":365,"y":369},{"x":370,"y":369},{"x":375,"y":369},{"x":380,"y":369},{"x":386,"y":369},{"x":393,"y":369},
      {"x":331,"y":372},{"x":336,"y":372},{"x":340,"y":372},{"x":345,"y":372},{"x":350,"y":372},{"x":354,"y":372},{"x":359,"y":372},{"x":363,"y":372},{"x":368,"y":372},{"x":373,"y":372},{"x":378,"y":372},{"x":384,"y":372},{"x":390,"y":372},
      {"x":334,"y":375},{"x":339,"y":375},{"x":344,"y":375},{"x":348,"y":375},{"x":353,"y":375},{"x":357,"y":375},{"x":362,"y":375},{"x":366,"y":375},{"x":371,"y":375},{"x":376,"y":375},{"x":381,"y":375},{"x":387,"y":375},{"x":395,"y":375},
      {"x":338,"y":378},{"x":343,"y":378},{"x":347,"y":378},{"x":352,"y":378},{"x":356,"y":378},{"x":361,"y":378},{"x":365,"y":378},{"x":370,"y":378},{"x":374,"y":378},{"x":379,"y":378},{"x":385,"y":378},{"x":391,"y":378},
      {"x":341,"y":381},{"x":346,"y":381},{"x":350,"y":381},{"x":355,"y":381},{"x":359,"y":381},{"x":364,"y":381},{"x":368,"y":381},{"x":373,"y":381},{"x":378,"y":381},{"x":383,"y":381},{"x":389,"y":381},{"x":397,"y":381},
      {"x":345,"y":384},{"x":349,"y":384},{"x":354,"y":384},{"x":358,"y":384},{"x":363,"y":384},{"x":367,"y":384},{"x":372,"y":384},{"x":376,"y":384},{"x":381,"y":384},{"x":387,"y":384},{"x":393,"y":384},
      {"x":348,"y":387},{"x":353,"y":387},{"x":357,"y":387},{"x":362,"y":387},{"x":366,"y":387},{"x":371,"y":387},{"x":375,"y":387},{"x":380,"y":387},{"x":385,"y":387},{"x":391,"y":387},{"x":399,"y":387},
      {"x":352,"y":390},{"x":356,"y":390},{"x":361,"y":390},{"x":365,"y":390},{"x":370,"y":390},{"x":374,"y":390},{"x":379,"y":390},{"x":384,"y":390},{"x":389,"y":390},{"x":395,"y":390},
      {"x":356,"y":393},{"x":360,"y":393},{"x":364,"y":393},{"x":369,"y":393},{"x":373,"y":393},{"x":378,"y":393},{"x":383,"y":393},{"x":388,"y":393},{"x":394,"y":393},
      {"x":361,"y":396},{"x":365,"y":396},{"x":370,"y":396},{"x":375,"y":396},{"x":380,"y":396},{"x":386,"y":396},{"x":392,"y":396},
      {"x":366,"y":399},{"x":371,"y":399},{"x":376,"y":399},{"x":382,"y":399},{"x":389,"y":399},
      {"x":372,"y":402},{"x":378,"y":402},{"x":385,"y":402},{"x":392,"y":402}
    ],
    "h1": [
      {"x":200,"n":18},{"x":202,"n":14},{"x":204,"n":20},{"x":206,"n":16},{"x":208,"n":13},{"x":210,"n":19},{"x":212,"n":15},{"x":214,"n":21},{"x":216,"n":17},{"x":218,"n":14},
      {"x":220,"n":20},{"x":222,"n":16},{"x":224,"n":22},{"x":226,"n":18},{"x":228,"n":15},{"x":230,"n":21},{"x":232,"n":17},{"x":234,"n":23},{"x":236,"n":19},{"x":238,"n":16},
      {"x":240,"n":22},{"x":242,"n":18},{"x":244,"n":24},{"x":246,"n":20},{"x":248,"n":17},{"x":250,"n":23},{"x":252,"n":25},{"x":254,"n":21},{"x":256,"n":26},{"x":258,"n":22},
      {"x":260,"n":28},{"x":262,"n":24},{"x":264,"n":27},{"x":266,"n":30},{"x":268,"n":25},{"x":270,"n":29},{"x":272,"n":32},{"x":274,"n":27},{"x":276,"n":31},{"x":278,"n":34},
      {"x":280,"n":30},{"x":282,"n":33},{"x":284,"n":36},{"x":286,"n":32},{"x":288,"n":37},{"x":290,"n":34},{"x":292,"n":39},{"x":294,"n":42},{"x":296,"n":37},{"x":298,"n":41},
      {"x":300,"n":44},{"x":302,"n":40},{"x":304,"n":46},{"x":306,"n":49},{"x":308,"n":44},{"x":310,"n":51},{"x":312,"n":54},{"x":314,"n":49},{"x":316,"n":56},{"x":318,"n":53},
      {"x":320,"n":58},{"x":322,"n":61},{"x":324,"n":56},{"x":326,"n":63},{"x":328,"n":67},{"x":330,"n":62},{"x":332,"n":69},{"x":334,"n":73},{"x":336,"n":68},{"x":338,"n":77},
      {"x":340,"n":82},{"x":342,"n":86},{"x":344,"n":95},{"x":346,"n":110},{"x":348,"n":150},{"x":350,"n":220},{"x":352,"n":420},{"x":354,"n":800},{"x":356,"n":1300},{"x":358,"n":1900},
      {"x":360,"n":2190},{"x":362,"n":2000},{"x":364,"n":1550},{"x":366,"n":1050},{"x":368,"n":620},{"x":370,"n":390},{"x":372,"n":250},{"x":374,"n":180},{"x":376,"n":140},{"x":378,"n":115},
      {"x":380,"n":95},{"x":382,"n":80},{"x":384,"n":66},{"x":386,"n":55},{"x":388,"n":48},{"x":390,"n":40},{"x":392,"n":33},{"x":394,"n":27},{"x":396,"n":21},{"x":398,"n":15},{"x":400,"n":15}
    ],
    "h2": [
      {"x":200,"n":14},{"x":202,"n":17},{"x":204,"n":12},{"x":206,"n":16},{"x":208,"n":19},{"x":210,"n":15},{"x":212,"n":13},{"x":214,"n":18},{"x":216,"n":16},{"x":218,"n":20},
      {"x":220,"n":17},{"x":222,"n":14},{"x":224,"n":19},{"x":226,"n":16},{"x":228,"n":21},{"x":230,"n":18},{"x":232,"n":15},{"x":234,"n":20},{"x":236,"n":17},{"x":238,"n":22},
      {"x":240,"n":19},{"x":242,"n":16},{"x":244,"n":21},{"x":246,"n":24},{"x":248,"n":19},{"x":250,"n":22},{"x":252,"n":18},{"x":254,"n":23},{"x":256,"n":20},{"x":258,"n":25},
      {"x":260,"n":21},{"x":262,"n":26},{"x":264,"n":23},{"x":266,"n":28},{"x":268,"n":24},{"x":270,"n":29},{"x":272,"n":26},{"x":274,"n":31},{"x":276,"n":27},{"x":278,"n":32},
      {"x":280,"n":29},{"x":282,"n":34},{"x":284,"n":30},{"x":286,"n":35},{"x":288,"n":32},{"x":290,"n":37},{"x":292,"n":34},{"x":294,"n":39},{"x":296,"n":42},{"x":298,"n":37},
      {"x":300,"n":44},{"x":302,"n":40},{"x":304,"n":46},{"x":306,"n":49},{"x":308,"n":44},{"x":310,"n":51},{"x":312,"n":48},{"x":314,"n":54},{"x":316,"n":57},{"x":318,"n":52},
      {"x":320,"n":59},{"x":322,"n":56},{"x":324,"n":62},{"x":326,"n":65},{"x":328,"n":60},{"x":330,"n":67},{"x":332,"n":64},{"x":334,"n":71},{"x":336,"n":68},{"x":338,"n":75},
      {"x":340,"n":72},{"x":342,"n":79},{"x":344,"n":92},{"x":346,"n":115},{"x":348,"n":150},{"x":350,"n":320},{"x":352,"n":600},{"x":354,"n":1060},{"x":356,"n":1550},{"x":358,"n":1950},
      {"x":360,"n":2130},{"x":362,"n":2080},{"x":364,"n":1800},{"x":366,"n":1400},{"x":368,"n":1000},{"x":370,"n":600},{"x":372,"n":340},{"x":374,"n":220},{"x":376,"n":150},{"x":378,"n":110},
      {"x":380,"n":85},{"x":382,"n":68},{"x":384,"n":55},{"x":386,"n":45},{"x":388,"n":38},{"x":390,"n":31},{"x":392,"n":25},{"x":394,"n":20},{"x":396,"n":15},{"x":398,"n":11},{"x":400,"n":11}
    ]
  },
  "concat": [
    {
      "width": 409,
      "height": 412,
      "layer": [
        {
          "data": {"name": "scatter"},
          "mark": {"type": "square", "size": 7, "color": "black", "opacity": 1, "filled": true},
          "encoding": {
            "x": {"field": "x", "type": "quantitative", "scale": {"domain": [0, 460], "nice": false, "zero": false},
                  "axis": {"orient": "bottom", "values": [100, 200, 300, 400], "format": "d", "title": "MT1 (ns)", "titleFontSize": 25, "titleAnchor": "end", "titleAlign": "right", "titleX": 380, "titlePadding": 4, "labelPadding": 20}},
            "y": {"field": "y", "type": "quantitative", "scale": {"domain": [0, 460], "nice": false, "zero": false},
                  "axis": {"orient": "left", "values": [50, 100, 150, 200, 250, 300, 350, 400, 450], "format": "d", "title": "MT2 (ns)", "titleFontSize": 25, "titleAnchor": "end", "titlePadding": 38, "labelPadding": 26, "tickSize": -14}}
          }
        },
        {
          "data": {"values": [{}]},
          "mark": {"type": "point", "opacity": 0},
          "encoding": {
            "x": {"datum": 0, "type": "quantitative",
                  "axis": {"orient": "bottom", "values": [20, 40, 60, 80, 120, 140, 160, 180, 220, 240, 260, 280, 320, 340, 360, 380, 420, 440], "labels": false, "tickSize": -6, "title": null}},
            "y": {"datum": 0, "type": "quantitative",
                  "axis": {"orient": "left", "values": [10, 20, 30, 40, 60, 70, 80, 90, 110, 120, 130, 140, 160, 170, 180, 190, 210, 220, 230, 240, 260, 270, 280, 290, 310, 320, 330, 340, 360, 370, 380, 390, 410, 420, 430, 440], "labels": false, "tickSize": -6, "title": null}}
          }
        }
      ],
      "resolve": {"axis": {"x": "independent", "y": "independent"}}
    },
    {
      "width": 409,
      "height": 412,
      "layer": [
        {
          "layer": [
            {
              "data": {"values": [{}]},
              "mark": {"type": "rect", "fill": "white", "stroke": "black", "strokeWidth": 1},
              "encoding": {"x": {"datum": 320}, "x2": {"datum": 400}, "y": {"datum": 2178}, "y2": {"datum": 2500}}
            },
            {"data": {"values": [{}]}, "mark": {"type": "text", "align": "left", "baseline": "middle", "font": "Liberation Serif", "fontStyle": "italic", "fontSize": 12, "color": "black"},
             "encoding": {"x": {"datum": 323}, "y": {"datum": 2448}, "text": {"value": "Constant"}}},
            {"data": {"values": [{}]}, "mark": {"type": "text", "align": "left", "baseline": "middle", "font": "Liberation Serif", "fontStyle": "italic", "fontSize": 12, "color": "black"},
             "encoding": {"x": {"datum": 323}, "y": {"datum": 2345}, "text": {"value": "Mean"}}},
            {"data": {"values": [{}]}, "mark": {"type": "text", "align": "left", "baseline": "middle", "font": "Liberation Serif", "fontStyle": "italic", "fontSize": 12, "color": "black"},
             "encoding": {"x": {"datum": 323}, "y": {"datum": 2242}, "text": {"value": "Sigma"}}},
            {"data": {"values": [{}]}, "mark": {"type": "text", "align": "right", "baseline": "middle", "font": "Liberation Serif", "fontStyle": "italic", "fontSize": 12, "color": "black"},
             "encoding": {"x": {"datum": 398}, "y": {"datum": 2448}, "text": {"value": "2135."}}},
            {"data": {"values": [{}]}, "mark": {"type": "text", "align": "right", "baseline": "middle", "font": "Liberation Serif", "fontStyle": "italic", "fontSize": 12, "color": "black"},
             "encoding": {"x": {"datum": 398}, "y": {"datum": 2345}, "text": {"value": "360.9"}}},
            {"data": {"values": [{}]}, "mark": {"type": "text", "align": "right", "baseline": "middle", "font": "Liberation Serif", "fontStyle": "italic", "fontSize": 12, "color": "black"},
             "encoding": {"x": {"datum": 398}, "y": {"datum": 2242}, "text": {"value": "4.616"}}},
            {
              "data": {"name": "h1"},
              "mark": {"type": "line", "interpolate": "step-after", "color": "black", "strokeWidth": 1.5},
              "encoding": {
                "x": {"field": "x", "type": "quantitative", "scale": {"domain": [200, 400], "nice": false, "zero": false},
                      "axis": {"orient": "bottom", "values": [200, 250, 300, 350, 400], "format": "d", "title": "MT1 (ns)", "titleAnchor": "end", "titlePadding": 4, "labelPadding": 20}},
                "y": {"field": "n", "type": "quantitative", "scale": {"domain": [0, 2500], "nice": false},
                      "axis": {"orient": "left", "values": [0, 250, 500, 750, 1000, 1250, 1500, 1750, 2000, 2250], "format": "d", "title": null, "labelPadding": 42}}
              }
            }
          ]
        },
        {
          "data": {"values": [{}]},
          "mark": {"type": "point", "opacity": 0},
          "encoding": {
            "x": {"datum": 300, "type": "quantitative",
                  "axis": {"orient": "bottom", "values": [210, 220, 230, 240, 260, 270, 280, 290, 310, 320, 330, 340, 360, 370, 380, 390], "labels": false, "tickSize": -6, "title": null}},
            "y": {"datum": 100, "type": "quantitative",
                  "axis": {"orient": "left", "values": [50, 100, 150, 200, 300, 350, 400, 450, 550, 600, 650, 700, 800, 850, 900, 950, 1050, 1100, 1150, 1200, 1300, 1350, 1400, 1450, 1550, 1600, 1650, 1700, 1800, 1850, 1900, 1950, 2050, 2100, 2150, 2200, 2300, 2350, 2400, 2450], "labels": false, "tickSize": -6, "title": null}}
          }
        }
      ],
      "resolve": {"axis": {"x": "independent", "y": "independent"}}
    },
    {
      "width": 409,
      "height": 412,
      "layer": [
        {
          "layer": [
            {
              "data": {"values": [{}]},
              "mark": {"type": "rect", "fill": "white", "stroke": "black", "strokeWidth": 1},
              "encoding": {"x": {"datum": 320}, "x2": {"datum": 400}, "y": {"datum": 2190}, "y2": {"datum": 2500}}
            },
            {"data": {"values": [{}]}, "mark": {"type": "text", "align": "left", "baseline": "middle", "font": "Liberation Serif", "fontStyle": "italic", "fontSize": 12, "color": "black"},
             "encoding": {"x": {"datum": 323}, "y": {"datum": 2445}, "text": {"value": "Constant"}}},
            {"data": {"values": [{}]}, "mark": {"type": "text", "align": "left", "baseline": "middle", "font": "Liberation Serif", "fontStyle": "italic", "fontSize": 12, "color": "black"},
             "encoding": {"x": {"datum": 323}, "y": {"datum": 2345}, "text": {"value": "Mean"}}},
            {"data": {"values": [{}]}, "mark": {"type": "text", "align": "left", "baseline": "middle", "font": "Liberation Serif", "fontStyle": "italic", "fontSize": 12, "color": "black"},
             "encoding": {"x": {"datum": 323}, "y": {"datum": 2245}, "text": {"value": "Sigma"}}},
            {"data": {"values": [{}]}, "mark": {"type": "text", "align": "right", "baseline": "middle", "font": "Liberation Serif", "fontStyle": "italic", "fontSize": 12, "color": "black"},
             "encoding": {"x": {"datum": 398}, "y": {"datum": 2445}, "text": {"value": "2072."}}},
            {"data": {"values": [{}]}, "mark": {"type": "text", "align": "right", "baseline": "middle", "font": "Liberation Serif", "fontStyle": "italic", "fontSize": 12, "color": "black"},
             "encoding": {"x": {"datum": 398}, "y": {"datum": 2345}, "text": {"value": "361.3"}}},
            {"data": {"values": [{}]}, "mark": {"type": "text", "align": "right", "baseline": "middle", "font": "Liberation Serif", "fontStyle": "italic", "fontSize": 12, "color": "black"},
             "encoding": {"x": {"datum": 398}, "y": {"datum": 2245}, "text": {"value": "4.766"}}},
            {
              "data": {"name": "h2"},
              "mark": {"type": "line", "interpolate": "step-after", "color": "black", "strokeWidth": 1.5},
              "encoding": {
                "x": {"field": "x", "type": "quantitative", "scale": {"domain": [200, 400], "nice": false, "zero": false},
                      "axis": {"orient": "bottom", "values": [200, 250, 300, 350, 400], "format": "d", "title": "MT2 (ns)", "titleAnchor": "end", "titlePadding": 21, "labelPadding": 22}},
                "y": {"field": "n", "type": "quantitative", "scale": {"domain": [0, 2500], "nice": false},
                      "axis": {"orient": "left", "values": [0, 250, 500, 750, 1000, 1250, 1500, 1750, 2000, 2250], "format": "d", "title": null, "labelPadding": 42}}
              }
            }
          ]
        },
        {
          "data": {"values": [{}]},
          "mark": {"type": "point", "opacity": 0},
          "encoding": {
            "x": {"datum": 300, "type": "quantitative",
                  "axis": {"orient": "bottom", "values": [210, 220, 230, 240, 260, 270, 280, 290, 310, 320, 330, 340, 360, 370, 380, 390], "labels": false, "tickSize": -6, "title": null}},
            "y": {"datum": 100, "type": "quantitative",
                  "axis": {"orient": "left", "values": [50, 100, 150, 200, 300, 350, 400, 450, 550, 600, 650, 700, 800, 850, 900, 950, 1050, 1100, 1150, 1200, 1300, 1350, 1400, 1450, 1550, 1600, 1650, 1700, 1800, 1850, 1900, 1950, 2050, 2100, 2150, 2200, 2300, 2350, 2400, 2450], "labels": false, "tickSize": -6, "title": null}}
          }
        }
      ],
      "resolve": {"axis": {"x": "independent", "y": "independent"}}
    }
  ],
  "config": {
    "view": {"stroke": "black", "strokeWidth": 1.5},
    "axis": {
      "domain": false, "grid": false,
      "ticks": true, "tickColor": "black", "tickSize": -12, "tickWidth": 1,
      "labelFont": "Liberation Serif", "labelFontStyle": "italic", "labelFontSize": 22, "labelColor": "black",
      "labelFlush": false, "labelOverlap": false,
      "titleFont": "DejaVu Sans", "titleFontSize": 26, "titleFontWeight": "normal", "titleColor": "black"
    }
  }
}
